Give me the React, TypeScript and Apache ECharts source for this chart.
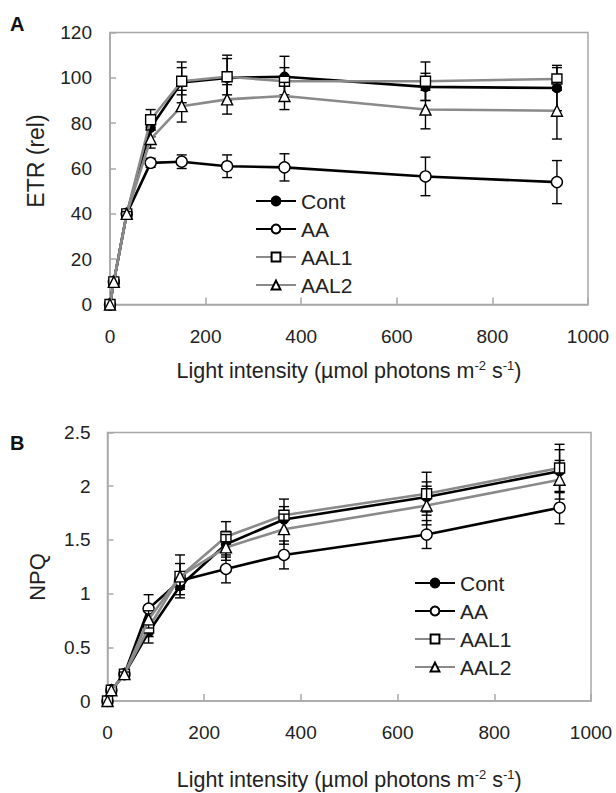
import React, { useEffect, useRef } from "react";
import * as echarts from "echarts";

// Light intensity (µmol photons m-2 s-1)
const light = [0, 8, 35, 85, 150, 245, 365, 660, 935];
const seriesNames = ["Cont", "AA", "AAL1", "AAL2"];

// Panel A: ETR (rel)
const etrCont = [0, 10, 40, 78, 98, 100, 100.5, 96, 95.5];
const etrAA = [0, 10, 40, 62.5, 63, 61, 60.5, 56.5, 54];
const etrAAL1 = [0, 10, 40, 81.5, 98.5, 100.5, 98.5, 98.5, 99.5];
const etrAAL2 = [0, 10, 40, 73, 87.5, 90.5, 92, 86, 85.5];
const etrErrCont = [0, 0, 1, 4, 9, 10, 9, 6, 10];
const etrErrAA = [0, 0, 1, 2, 3, 5, 6, 8.5, 9.5];
const etrErrAAL1 = [0, 0, 1, 4.5, 6, 8, 6, 8.5, 5];
const etrErrAAL2 = [0, 0, 1, 4, 7, 6.5, 6, 8.5, 12.5];

// Panel B: NPQ
const npqCont = [0, 0.1, 0.25, 0.64, 1.07, 1.46, 1.69, 1.9, 2.14];
const npqAA = [0, 0.1, 0.25, 0.86, 1.12, 1.23, 1.36, 1.55, 1.8];
const npqAAL1 = [0, 0.1, 0.25, 0.68, 1.16, 1.53, 1.73, 1.93, 2.17];
const npqAAL2 = [0, 0.1, 0.25, 0.76, 1.16, 1.43, 1.6, 1.82, 2.06];
const npqErrCont = [0, 0, 0.02, 0.1, 0.08, 0.12, 0.12, 0.14, 0.2];
const npqErrAA = [0, 0, 0.02, 0.13, 0.08, 0.13, 0.13, 0.13, 0.15];
const npqErrAAL1 = [0, 0, 0.02, 0.08, 0.2, 0.14, 0.15, 0.2, 0.22];
const npqErrAAL2 = [0, 0, 0.02, 0.08, 0.12, 0.12, 0.14, 0.18, 0.18];

const FONT = "'Liberation Sans', Arial, sans-serif";
const AXIS_GRAY = "#a8a8a8";
const TEXT = "#222";
const LINE_GRAY = "#8a8a8a";

const styles = [
  { symbol: "circle", size: 9, fill: "#000", line: "#000" },
  { symbol: "circle", size: 11, fill: "#fff", line: "#000" },
  { symbol: "rect", size: 10, fill: "#fff", line: LINE_GRAY },
  { symbol: "triangle", size: 11, fill: "#fff", line: LINE_GRAY },
];

function errRender(params: any, api: any) {
  const x = api.value(0);
  const y = api.value(1);
  const e = api.value(2);
  if (!e) return null;
  const t = api.coord([x, y + e]);
  const b = api.coord([x, y - e]);
  const w = 5;
  const st = { stroke: "#000", lineWidth: 1.4 };
  return {
    type: "group",
    children: [
      { type: "line", shape: { x1: t[0], y1: t[1], x2: b[0], y2: b[1] }, style: st },
      { type: "line", shape: { x1: t[0] - w, y1: t[1], x2: t[0] + w, y2: t[1] }, style: st },
      { type: "line", shape: { x1: b[0] - w, y1: b[1], x2: b[0] + w, y2: b[1] }, style: st },
    ],
  };
}

function panelSeries(p: number, vals: number[][], errs: number[][]) {
  const out: any[] = [];
  vals.forEach((v, i) => {
    const s = styles[i];
    out.push({
      type: "custom",
      xAxisIndex: p,
      yAxisIndex: p,
      silent: true,
      z: 2 + i * 2,
      encode: { x: 0, y: 1 },
      data: light.map((x, k) => [x, v[k], errs[i][k]]),
      renderItem: errRender,
    });
    out.push({
      type: "line",
      name: seriesNames[i],
      xAxisIndex: p,
      yAxisIndex: p,
      z: 3 + i * 2,
      data: light.map((x, k) => [x, v[k]]),
      symbol: s.symbol,
      symbolSize: s.size,
      showAllSymbol: true,
      lineStyle: { color: s.line, width: 2.6 },
      itemStyle: { color: s.fill, borderColor: "#000", borderWidth: 1.4 },
      emphasis: { disabled: true },
    });
  });
  return out;
}

function mkX(idx: number, nameGap: number) {
  return {
    type: "value",
    gridIndex: idx,
    min: 0,
    max: 1000,
    interval: 200,
    axisLine: { show: true, lineStyle: { color: AXIS_GRAY, width: 1.5 } },
    axisTick: { show: true, inside: true, length: 7, lineStyle: { color: AXIS_GRAY, width: 1.5 } },
    splitLine: { show: false },
    axisLabel: { fontSize: 19, color: TEXT, margin: 22, fontFamily: FONT, formatter: (v: number) => String(v) },
    name: "Light intensity (µmol photons m{sup|-2} s{sup|-1})",
    nameLocation: "middle",
    nameGap,
    nameTextStyle: {
      fontSize: 21.5,
      color: TEXT,
      fontFamily: FONT,
      lineHeight: 24,
      rich: {
        sup: { fontSize: 13, lineHeight: 13, verticalAlign: "top", color: TEXT, fontFamily: FONT },
      },
    },
  };
}

function mkY(idx: number, max: number, interval: number, margin: number) {
  return {
    type: "value",
    gridIndex: idx,
    min: 0,
    max,
    interval,
    axisLine: { show: true, lineStyle: { color: AXIS_GRAY, width: 1.5 } },
    axisTick: { show: true, inside: true, length: 6, lineStyle: { color: AXIS_GRAY, width: 1.5 } },
    splitLine: { show: false },
    axisLabel: { fontSize: 19, color: TEXT, margin, fontFamily: FONT },
  };
}

function mkLegend(left: number, top: number) {
  return {
    orient: "vertical",
    left,
    top,
    itemWidth: 40,
    itemHeight: 11,
    itemGap: 6,
    selectedMode: false,
    data: seriesNames,
    textStyle: { fontSize: 21, color: TEXT, lineHeight: 22, fontFamily: FONT },
  };
}

export default function App() {
  const ref = useRef<HTMLDivElement>(null);
  useEffect(() => {
    if (!ref.current) return;
    const chart = echarts.init(ref.current, undefined, { renderer: "svg" });
    const option: any = {
      animation: false,
      textStyle: { fontFamily: FONT },
      grid: [
        { left: 110, top: 32.5, width: 478, height: 272, show: true, borderColor: AXIS_GRAY, borderWidth: 1.5 },
        { left: 107.5, top: 432.5, width: 483.5, height: 271.5, show: true, borderColor: AXIS_GRAY, borderWidth: 1.5 },
      ],
      xAxis: [mkX(0, 54), mkX(1, 67)],
      yAxis: [mkY(0, 120, 20, 18), mkY(1, 2.5, 0.5, 17)],
      legend: [mkLegend(250, 185), mkLegend(409, 567)],
      series: [
        ...panelSeries(0, [etrCont, etrAA, etrAAL1, etrAAL2], [etrErrCont, etrErrAA, etrErrAAL1, etrErrAAL2]),
        ...panelSeries(1, [npqCont, npqAA, npqAAL1, npqAAL2], [npqErrCont, npqErrAA, npqErrAAL1, npqErrAAL2]),
      ],
      graphic: [
        { type: "text", left: 10, top: 14, style: { text: "A", fontSize: 20, fontWeight: "bold", fill: "#111", fontFamily: FONT } },
        { type: "text", left: 10, top: 433, style: { text: "B", fontSize: 20, fontWeight: "bold", fill: "#111", fontFamily: FONT } },
        {
          type: "text",
          x: 36,
          y: 161,
          rotation: Math.PI / 2,
          style: { text: "ETR (rel)", fontSize: 23, fill: TEXT, fontFamily: FONT, align: "center", verticalAlign: "middle" },
        },
        {
          type: "text",
          x: 37,
          y: 577,
          rotation: Math.PI / 2,
          style: { text: "NPQ", fontSize: 22, fill: TEXT, fontFamily: FONT, align: "center", verticalAlign: "middle" },
        },
      ],
    };
    chart.setOption(option);
    return () => chart.dispose();
  }, []);
  return <div ref={ref} style={{ position: "absolute", left: 0, top: 0, width: 616, height: 793 }} />;
}
